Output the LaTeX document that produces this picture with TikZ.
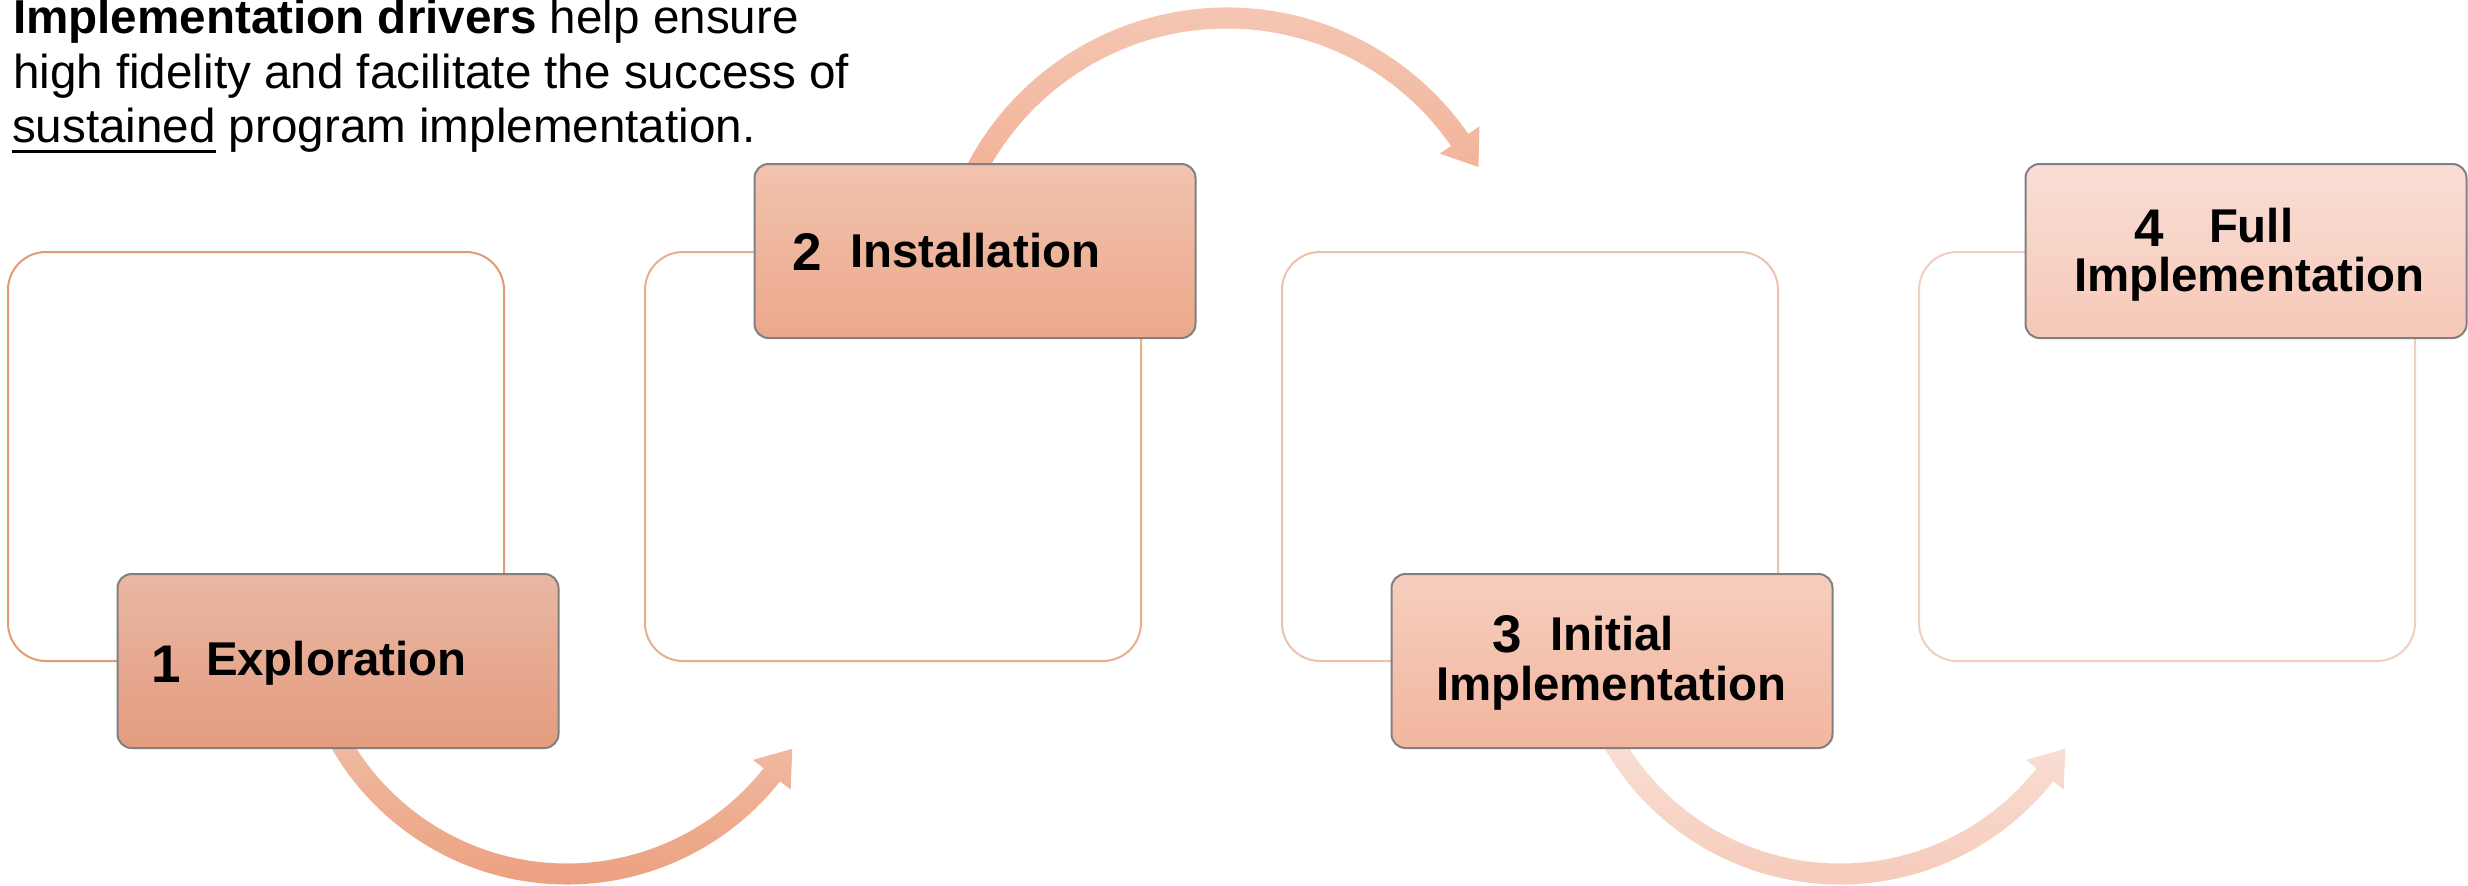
\documentclass[tikz,border=0pt]{standalone}
\usepackage{fontspec}
\setmainfont{Liberation Sans}
\usetikzlibrary{calc}
\definecolor{frameA}{HTML}{E19C76}
\definecolor{frameB}{HTML}{E8AF8F}
\definecolor{frameC}{HTML}{EEC1AC}
\definecolor{frameD}{HTML}{F2CEC1}
\definecolor{boxgray}{HTML}{808080}
\definecolor{sAtop}{HTML}{E9B7A3}\definecolor{sAbot}{HTML}{E49C7F}
\definecolor{sBtop}{HTML}{F1C3AE}\definecolor{sBbot}{HTML}{ECA88B}
\definecolor{sCtop}{HTML}{F6CEBE}\definecolor{sCbot}{HTML}{F2B69F}
\definecolor{sDtop}{HTML}{F9DED5}\definecolor{sDbot}{HTML}{F6C8B8}
\definecolor{aAtop}{HTML}{F0BCA4}\definecolor{aAbot}{HTML}{ECA080}
\definecolor{aBtop}{HTML}{F5CBBA}\definecolor{aBbot}{HTML}{F2B398}
\definecolor{aCtop}{HTML}{F9DFD6}\definecolor{aCbot}{HTML}{F6CBBA}
\newsavebox\ulbox
\newcommand{\myul}[1]{\sbox\ulbox{#1}\rlap{\rule[-5.5pt]{\wd\ulbox}{1.5pt}}\usebox\ulbox}
\begin{document}
\begin{tikzpicture}[x=0.5pt,y=0.5pt,
  bigbox/.style={draw, line width=1pt, rounded corners=19pt, minimum width=248pt, minimum height=204.5pt, inner sep=0pt, fill=white},
  smallbox/.style={draw=boxgray, line width=1pt, rounded corners=7pt, minimum width=220.5pt, minimum height=87pt, inner sep=0pt},
  lbl/.style={inner sep=0pt, outer sep=0pt, anchor=base west, font=\fontsize{23.7pt}{28pt}\selectfont\bfseries},
  num/.style={inner sep=0pt, outer sep=0pt, anchor=base west, font=\fontsize{26.5pt}{30pt}\selectfont\bfseries},
  hdr/.style={inner sep=0pt, outer sep=0pt, anchor=base west, font=\fontsize{23.8pt}{28pt}\selectfont}]
\useasboundingbox (0,0) rectangle (2468,-885);
\fill[white] (0,0) rectangle (2468,-885);

% header
\node[hdr] (h1) at (13,-33) {\textbf{Implementation drivers} help ensure};
\node[hdr] (h2) at (13,-88) {high fidelity and facilitate the success of};
\node[hdr] (h3) at (12,-142) {\myul{sustained} program implementation.};

% large frames
\node[bigbox, draw=frameA] (f1) at (256,-456.5) {};
\node[bigbox, draw=frameB] (f2) at (893,-456.5) {};
\node[bigbox, draw=frameC] (f3) at (1530,-456.5) {};
\node[bigbox, draw=frameD] (f4) at (2167,-456.5) {};

% arrows
\coordinate (c1) at (567,-613);
\coordinate (c2) at (1227,-301);
\coordinate (c3) at (1840,-613);
\shade[top color=aAtop, bottom color=aAbot]
  ($(c1)+(208:271.5)$) arc[start angle=208, end angle=321.7, radius=271.5]
  -- ($(c1)+(321.7:285)$) -- ($(c1)+(321.7:261)+(51.7:33)$)
  -- ($(c1)+(321.7:237)$) -- ($(c1)+(321.7:250.5)$)
  arc[start angle=321.7, end angle=208, radius=250.5] -- cycle;
\shade[top color=aBtop, bottom color=aBbot]
  ($(c2)+(153:293.5)$) arc[start angle=153, end angle=34.7, radius=293.5]
  -- ($(c2)+(34.7:307)$) -- ($(c2)+(34.7:283)+(-55.3:33)$)
  -- ($(c2)+(34.7:259)$) -- ($(c2)+(34.7:272.5)$)
  arc[start angle=34.7, end angle=153, radius=272.5] -- cycle;
\shade[top color=aCtop, bottom color=aCbot]
  ($(c3)+(208:271.5)$) arc[start angle=208, end angle=321.7, radius=271.5]
  -- ($(c3)+(321.7:285)$) -- ($(c3)+(321.7:261)+(51.7:33)$)
  -- ($(c3)+(321.7:237)$) -- ($(c3)+(321.7:250.5)$)
  arc[start angle=321.7, end angle=208, radius=250.5] -- cycle;

% small boxes
\node[smallbox, top color=sAtop, bottom color=sAbot] (s1) at (338,-661) {};
\node[smallbox, top color=sBtop, bottom color=sBbot] (s2) at (975,-251) {};
\node[smallbox, top color=sCtop, bottom color=sCbot] (s3) at (1612,-661) {};
\node[smallbox, top color=sDtop, bottom color=sDbot] (s4) at (2246,-251) {};

% labels
\node[num] (n1) at (151,-682) {1};
\node[lbl] (t1) at (206,-675) {Exploration};
\node[num] (n2) at (792,-270) {2};
\node[lbl] (t2) at (850,-267) {Installation};
\node[num] (n3) at (1492,-652) {3};
\node[lbl] (t3a) at (1550,-650) {Initial};
\node[lbl] (t3b) at (1436,-700) {Implementation};
\node[num] (n4) at (2134,-246) {4};
\node[lbl] (t4a) at (2209,-242) {Full};
\node[lbl] (t4b) at (2074,-291) {Implementation};
\end{tikzpicture}
\end{document}
